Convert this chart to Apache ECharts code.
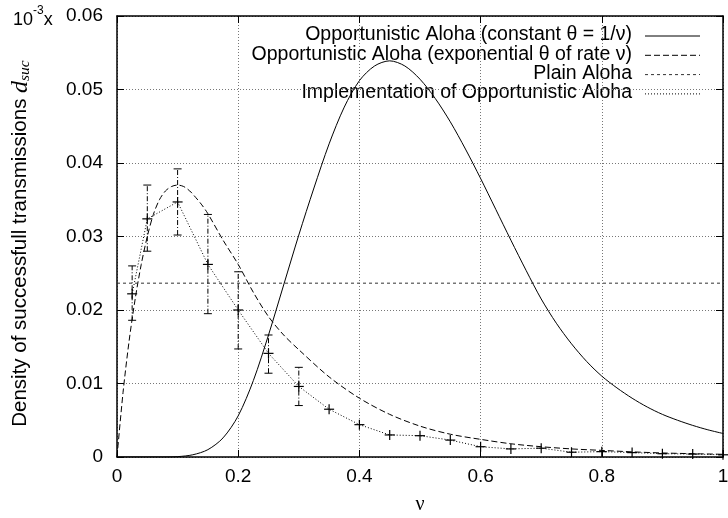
<!DOCTYPE html>
<html><head><meta charset="utf-8">
<script src="https://cdn.jsdelivr.net/npm/echarts@6/dist/echarts.min.js"></script>
<style>html,body{margin:0;padding:0;background:#fff}#c{width:728px;height:518px}</style>
</head><body><div id="c"></div>
<script>
// ---- data ----
const xTickLabels = ['0', '0.2', '0.4', '0.6', '0.8', '1'];
const yTickLabels = ['0', '0.01', '0.02', '0.03', '0.04', '0.05', '0.06'];

// Opportunistic Aloha (constant theta = 1/nu)
const nuConst = [0, 0.025, 0.05, 0.075, 0.1, 0.125, 0.15, 0.175, 0.2, 0.225, 0.25, 0.275, 0.3, 0.325, 0.35, 0.375, 0.4, 0.425, 0.45, 0.475, 0.5, 0.525, 0.55, 0.575, 0.6, 0.625, 0.65, 0.675, 0.7, 0.725, 0.75, 0.775, 0.8, 0.825, 0.85, 0.875, 0.9, 0.925, 0.95, 0.975, 1.0];
const dConst = [0, 0, 0, 0, 0.00005, 0.0003, 0.001, 0.0026, 0.0056, 0.0104, 0.0166, 0.0234, 0.0302, 0.0366, 0.0426, 0.0476, 0.0512, 0.0532, 0.0539, 0.0532, 0.0514, 0.0488, 0.0456, 0.0419, 0.0379, 0.0337, 0.0295, 0.0254, 0.0215, 0.0182, 0.0154, 0.0130, 0.0110, 0.0094, 0.0080, 0.0068, 0.0058, 0.0050, 0.0043, 0.0037, 0.0032];

// Opportunistic Aloha (exponential theta of rate nu)
const nuExp = [0, 0.01, 0.02, 0.03, 0.04, 0.05, 0.06, 0.07, 0.08, 0.09, 0.1, 0.11, 0.12, 0.13, 0.14, 0.15, 0.175, 0.2, 0.225, 0.25, 0.275, 0.3, 0.35, 0.4, 0.45, 0.5, 0.55, 0.6, 0.65, 0.7, 0.75, 0.8, 0.85, 0.9, 0.95, 1.0];
const dExp = [0, 0.0088, 0.0158, 0.0215, 0.0262, 0.0300, 0.0330, 0.0350, 0.0362, 0.0368, 0.0370, 0.0368, 0.0362, 0.0353, 0.0343, 0.0331, 0.0295, 0.0262, 0.0224, 0.0191, 0.0166, 0.0146, 0.0109, 0.0080, 0.0058, 0.0042, 0.0031, 0.0024, 0.0018, 0.0014, 0.0011, 0.0009, 0.0007, 0.00055, 0.00045, 0.00037];

// Plain Aloha
const plainAlohaX = [0, 1];
const plainAlohaY = [0.02365, 0.02365];

// Implementation of Opportunistic Aloha (measured points and error bars)
const nuImpl = [0.025, 0.05, 0.1, 0.15, 0.2, 0.25, 0.3, 0.35, 0.4, 0.45, 0.5, 0.55, 0.6, 0.65, 0.7, 0.75, 0.8, 0.85, 0.9, 0.95, 1.0];
const dImpl = [0.0222, 0.0324, 0.0347, 0.0262, 0.0200, 0.0141, 0.0096, 0.0065, 0.0044, 0.0030, 0.0029, 0.0023, 0.0014, 0.0011, 0.0012, 0.00065, 0.00073, 0.0006, 0.00045, 0.0004, 0.0003];
const errNu = [0.025, 0.05, 0.1, 0.15, 0.2, 0.25, 0.3];
const errLow = [0.0186, 0.0280, 0.0302, 0.0195, 0.0147, 0.0114, 0.0070];
const errHigh = [0.0260, 0.0370, 0.0392, 0.0330, 0.0252, 0.0166, 0.0122];

const seriesNames = [
  'Opportunistic Aloha (constant \u03b8 = 1/\u03bd)',
  'Opportunistic Aloha (exponential \u03b8 of rate \u03bd)',
  'Plain Aloha',
  'Implementation of Opportunistic Aloha'
];

// ---- build ----
const FONT = '"Liberation Sans", Arial, Helvetica, sans-serif';
const zip = (a, b) => a.map((v, i) => [v, b[i]]);
const fmtX = v => { const i = Math.round(v * 5); return xTickLabels[i] !== undefined ? xTickLabels[i] : ''; };
const fmtY = v => { const i = Math.round(v * 100); return yTickLabels[i] !== undefined ? yTickLabels[i] : ''; };

const chart = echarts.init(document.getElementById('c'), null, { renderer: 'canvas' });

const axisCommon = {
  type: 'value',
  axisLine: { show: true, onZero: false, lineStyle: { color: '#000', width: 1.5 } },
  axisTick: { show: true, inside: true, length: 7, lineStyle: { color: '#000', width: 1 } },
};

const legendStyles = [
  { stroke: '#000', lineWidth: 1, lineDash: null },
  { stroke: '#000', lineWidth: 1, lineDash: [6, 3] },
  { stroke: '#333', lineWidth: 1, lineDash: [3, 3] },
  { stroke: '#000', lineWidth: 1, lineDash: [1, 2] }
];
const legendGraphics = [];
seriesNames.forEach((n, i) => {
  const y = 36 + i * 19.3;
  legendGraphics.push({ type: 'text', right: 96, top: y - 11, style: { text: n, font: '19.5px ' + FONT, fill: '#000', textAlign: 'right' } });
  legendGraphics.push({ type: 'line', shape: { x1: 645, y1: y, x2: 700, y2: y }, style: Object.assign({}, legendStyles[i]) });
});

const option = {
  backgroundColor: '#fff',
  animation: false,
  grid: { left: 117, right: 5, top: 16, bottom: 61, containLabel: false, outerBoundsMode: 'none' },
  xAxis: [
    Object.assign({}, axisCommon, {
      min: 0, max: 1, interval: 0.2, position: 'bottom',
      axisLabel: { color: '#000', fontSize: 19, fontFamily: FONT, margin: 10, formatter: fmtX },
      splitLine: { show: true, lineStyle: { color: '#777', type: [1, 2], width: 1 } },
      name: '\u03bd', nameLocation: 'middle', nameGap: 38,
      nameTextStyle: { color: '#000', fontSize: 20, fontFamily: '"Liberation Serif", "DejaVu Serif", serif' }
    }),
    Object.assign({}, axisCommon, {
      min: 0, max: 1, interval: 0.2, position: 'top',
      axisLabel: { show: false }, splitLine: { show: false }
    })
  ],
  yAxis: [
    Object.assign({}, axisCommon, {
      min: 0, max: 0.06, interval: 0.01, position: 'left',
      axisLabel: { color: '#000', fontSize: 19, fontFamily: FONT, margin: 14, formatter: fmtY },
      splitLine: { show: true, lineStyle: { color: '#777', type: [1, 2], width: 1 } },
      name: '{t|Density of successfull transmissions }{d|d}{s|suc}',
      nameLocation: 'middle', nameGap: 84, nameRotate: 90,
      nameTextStyle: {
        color: '#000',
        padding: [0, 14, 0, 0],
        rich: {
          t: { fontSize: 20.5, fontFamily: FONT, color: '#000' },
          d: { fontSize: 24, fontFamily: '"Liberation Serif", serif', fontStyle: 'italic', color: '#000' },
          s: { fontSize: 15.5, fontFamily: '"Liberation Serif", serif', fontStyle: 'italic', color: '#000', verticalAlign: 'bottom', padding: [9, 0, 0, 0] }
        }
      }
    }),
    Object.assign({}, axisCommon, {
      min: 0, max: 0.06, interval: 0.01, position: 'right',
      axisLabel: { show: false }, splitLine: { show: false }
    })
  ],
  graphic: [
    {
      type: 'text', left: 13, top: 5,
      style: {
        text: '{a|10}{b|-3}{a|x}',
        rich: {
          a: { fontSize: 18, fontFamily: FONT, fill: '#000', color: '#000', verticalAlign: 'bottom', lineHeight: 24 },
          b: { fontSize: 12, fontFamily: FONT, fill: '#000', color: '#000', verticalAlign: 'top', lineHeight: 24 }
        }
      }
    }
  ].concat(legendGraphics),
  series: [
    {
      name: seriesNames[0], type: 'line', data: zip(nuConst, dConst), symbol: 'none', smooth: 0.3,
      lineStyle: { color: '#000', width: 1 }, z: 3
    },
    {
      name: seriesNames[1], type: 'line', data: zip(nuExp, dExp), symbol: 'none', smooth: 0.3,
      lineStyle: { color: '#000', width: 1, type: [6, 3] }, z: 3
    },
    {
      name: seriesNames[2], type: 'line', data: zip(plainAlohaX, plainAlohaY), symbol: 'none',
      lineStyle: { color: '#333', width: 1, type: [3, 3] }, z: 3
    },
    {
      name: seriesNames[3], type: 'line', data: zip(nuImpl, dImpl), symbol: 'none',
      lineStyle: { color: '#000', width: 1, type: [1, 2] }, z: 3
    },
    {
      name: 'marks', type: 'custom', data: zip(nuImpl, dImpl), encode: { x: 0, y: 1 }, z: 4,
      renderItem: function (params, api) {
        const p = api.coord([api.value(0), api.value(1)]);
        const h = 5;
        return {
          type: 'group', children: [
            { type: 'line', shape: { x1: p[0] - h, y1: p[1], x2: p[0] + h, y2: p[1] }, style: { stroke: '#000', lineWidth: 1.2 } },
            { type: 'line', shape: { x1: p[0], y1: p[1] - h, x2: p[0], y2: p[1] + h }, style: { stroke: '#000', lineWidth: 1.2 } }
          ]
        };
      }
    },
    {
      name: 'errorbars', type: 'custom', data: errNu.map((v, i) => [v, errLow[i], errHigh[i]]),
      encode: { x: 0, y: [1, 2] }, z: 4,
      renderItem: function (params, api) {
        const x = api.value(0);
        const a = api.coord([x, api.value(1)]);
        const b = api.coord([x, api.value(2)]);
        const w = 4;
        return {
          type: 'group', children: [
            { type: 'line', shape: { x1: a[0], y1: a[1], x2: b[0], y2: b[1] }, style: { stroke: '#000', lineWidth: 1, lineDash: [5, 2, 1, 2] } },
            { type: 'line', shape: { x1: a[0] - w, y1: a[1], x2: a[0] + w, y2: a[1] }, style: { stroke: '#000', lineWidth: 1 } },
            { type: 'line', shape: { x1: b[0] - w, y1: b[1], x2: b[0] + w, y2: b[1] }, style: { stroke: '#000', lineWidth: 1 } }
          ]
        };
      }
    }
  ]
};
chart.setOption(option);
</script>
</body></html>
